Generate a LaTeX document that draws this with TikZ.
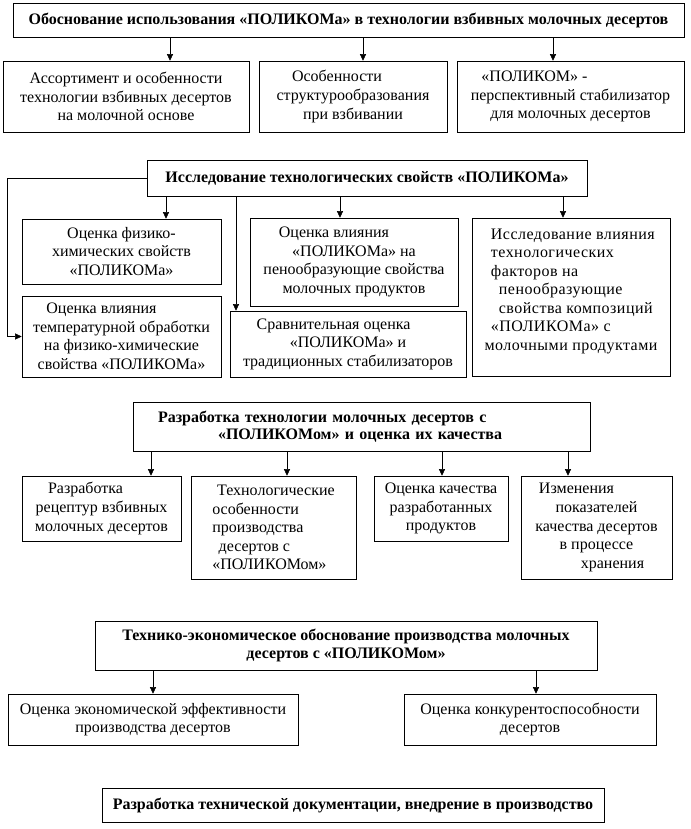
\documentclass[tikz,border=0pt]{standalone}
\usepackage{fontspec}
\setmainfont{Liberation Serif}
\usepackage{tikz}
\usetikzlibrary{arrows.meta}

\begin{document}
\begin{tikzpicture}[
    x=0.75pt, y=-0.75pt,
    font=\fontsize{12}{13.9}\selectfont,
    blk/.style  = {draw, rectangle, inner sep=0pt, align=center},
    hdr/.style  = {blk, font=\fontsize{12}{13}\selectfont\bfseries},
    sz/.style 2 args = {minimum width=#1*0.75pt, minimum height=#2*0.75pt},
    link/.style = {draw, -{Triangle[length=5pt,width=4.6pt]}},
]
\useasboundingbox (0,0) rectangle (691,829);

% ============ level 1: basis ============
\node[hdr, sz={671}{34}] (top) at (348.5,20)
  {Обоснование использования «ПОЛИКОМа» в технологии взбивных молочных десертов};
\node[blk, sz={246}{71}] (asrt) at (126,96.5)
  {Ассортимент и особенности\\технологии взбивных десертов\\на молочной основе};
\node[blk, sz={188}{71}] (strk) at (353,96.5)
  {Особенности\hspace*{2em}\\структурообразования\\при взбивании};
\node[blk, sz={227}{71}] (stab) at (570.5,96.5)
  {«ПОЛИКОМ» -\hspace*{4.5em}\\перспективный стабилизатор\\для молочных десертов};
\draw[link] (170,0 |- top.south) -- (170,0 |- asrt.north);
\draw[link] (363,0 |- top.south) -- (363,0 |- strk.north);
\draw[link] (553,0 |- top.south) -- (553,0 |- stab.north);

% ============ level 2: properties ============
\node[hdr, sz={440}{36}] (prop) at (367,178)
  {Исследование технологических свойств «ПОЛИКОМа»};
\node[blk, sz={199}{65}] (fizh) at (121.5,251.5)
  {Оценка физико-\\химических свойств\\«ПОЛИКОМа»};
\node[blk, sz={199}{81}] (temp) at (121.5,336.5)
  {Оценка влияния\hspace*{2.5em}\\температурной обработки\\на физико-химические\\свойства «ПОЛИКОМа»};
\node[blk, sz={208}{88}] (peno) at (354,262)
  {Оценка влияния\hspace*{2.5em}\\«ПОЛИКОМа» на\hspace*{4em}\\пенообразующие свойства\\молочных продуктов};
\node[blk, sz={236}{66}] (srav) at (348,344)
  {Сравнительная оценка\hspace*{1.8em}\\«ПОЛИКОМа» и\hspace*{5.5em}\\традиционных стабилизаторов};
\node[blk, sz={198}{158}, align=left, text depth=11pt,
      font=\fontsize{12}{13.9}\selectfont\addfontfeature{LetterSpace=3}] (fakt) at (571,297)
  {\hspace*{0.4em}Исследование влияния\\\hspace*{0.4em}технологических\\\hspace*{0.4em}факторов на\\\hspace*{0.9em}пенообразующие\\\hspace*{0.9em}свойства композиций\\\hspace*{0.4em}«ПОЛИКОМа» с\\молочными продуктами};
\draw[link] (166,0 |- prop.south) -- (166,0 |- fizh.north);
\draw[link] (236,0 |- prop.south) -- (236,0 |- srav.north);
\draw[link] (340,0 |- prop.south) -- (340,0 |- peno.north);
\draw[link] (563,0 |- prop.south) -- (563,0 |- fakt.north);
% side branch down to the temperature box
\draw[link] (prop.west) -- (7,0 |- prop.west) |- (temp.west);

% ============ level 3: technology ============
\node[hdr, sz={457}{49}, align=left, inner xsep=18.75pt,
      text width=305.25pt] (tech) at (361.5,426.5)
  {Разработка технологии молочных десертов с\\\hspace*{45pt}«ПОЛИКОМом» и оценка их качества};
\node[blk, sz={159}{65}] (rcpt) at (101.5,508.5)
  {\hspace*{1em}Разработка\hspace*{3em}\\рецептур взбивных\\молочных десертов};
\node[blk, sz={165}{103}, align=left] (prod) at (273.5,527.5)
  {\hspace*{0.3em}Технологические\\особенности\\производства\\\hspace*{0.4em}десертов с\\«ПОЛИКОМом»};
\node[blk, sz={134}{65}] (qual) at (441,508.5)
  {Оценка качества\\разработанных\\продуктов};
\node[blk, sz={151}{103}] (hran) at (596.5,527.5)
  {Изменения\hspace*{2.5em}\\показателей\hspace*{1em}\\качества десертов\\в процессе\hspace*{1.5em}\\\hspace*{2em}хранения};
\draw[link] (151,0 |- tech.south) -- (151,0 |- rcpt.north);
\draw[link] (287,0 |- tech.south) -- (287,0 |- prod.north);
\draw[link] (442,0 |- tech.south) -- (442,0 |- qual.north);
\draw[link] (568,0 |- tech.south) -- (568,0 |- hran.north);

% ============ level 4: economics ============
\node[hdr, sz={502}{49}] (econ) at (346,645.5)
  {Технико-экономическое обоснование производства молочных\\десертов с «ПОЛИКОМом»};
\node[blk, sz={290}{51}] (effk) at (153,719.5)
  {Оценка экономической эффективности\\производства десертов};
\node[blk, sz={252}{51}] (konk) at (530,719.5)
  {Оценка конкурентоспособности\\десертов};
\draw[link] (153,0 |- econ.south) -- (153,0 |- effk.north);
\draw[link] (536,0 |- econ.south) -- (536,0 |- konk.north);

% ============ level 5: rollout ============
\node[hdr, sz={502}{34}] (vndr) at (353,805)
  {Разработка технической документации, внедрение в производство};

\end{tikzpicture}
\end{document}
